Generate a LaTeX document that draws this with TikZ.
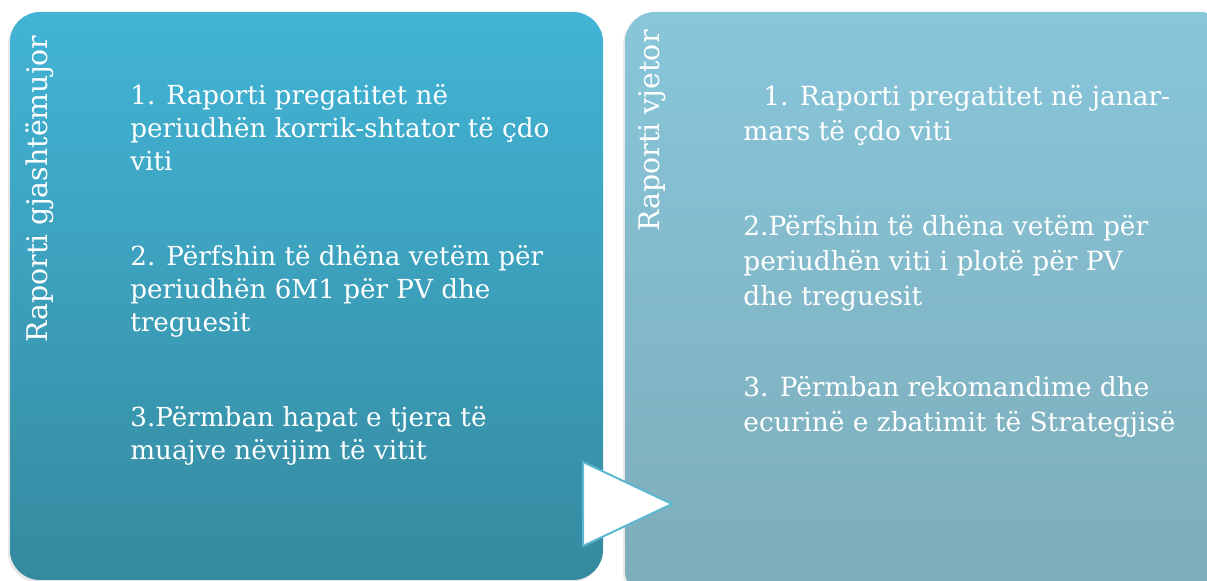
\documentclass[tikz,border=0pt]{standalone}
\usepackage{fontspec}
\setmainfont{DejaVu Serif}
\usetikzlibrary{positioning, shadows}
\definecolor{halftop}{HTML}{42B4D6}
\definecolor{halfbottom}{HTML}{358A9F}
\definecolor{yeartop}{HTML}{88C6DA}
\definecolor{yearbottom}{HTML}{7DACB9}
\definecolor{tipline}{HTML}{5BB8D0}
\tikzset{
    panel/.style = {rectangle, rounded corners=15pt, inner sep=0pt, minimum width=#1, drop shadow={opacity=0.18, shadow xshift=-1pt, shadow yshift=-1.2pt}},
    paneltitle/.style = {rotate=90, anchor=east, inner sep=0pt, text=white, font=\fontsize{14.2}{17}\selectfont},
    halfitem/.style = {anchor=north west, inner sep=0pt, align=left, text=white, font=\fontsize{13.1}{16.5}\selectfont},
    yearitem/.style = {anchor=north west, inner sep=0pt, align=left, text=white, font=\fontsize{13.2}{17.5}\selectfont},
    arrowtip/.style = {fill=white, draw=tipline, line width=1pt, line join=miter}
}

\begin{document}
\begin{tikzpicture}[x=0.5pt, y=-0.5pt]
\useasboundingbox (0,0) rectangle (1207,581);
% Panels
\node (half) [panel=296.5pt, minimum height=284pt, top color=halftop, bottom color=halfbottom] at (306.5,296) {};
\node (year) [panel=302.5pt, minimum height=294pt, top color=yeartop, bottom color=yearbottom] at (927.5,306) {};

% Titles
\node (halftitle) [paneltitle] at (40,35) {Raporti gjashtëmujor};
\node (yeartitle) [paneltitle] at (652,30) {Raporti vjetor};

% Items, six-month report
\node (h1) [halfitem] at (130,84) {1. Raporti pregatitet në\\periudhën korrik-shtator të çdo\\viti};
\node (h2) [halfitem] at (130,245) {2. Përfshin të dhëna vetëm për\\periudhën 6M1 për PV dhe\\treguesit};
\node (h3) [halfitem] at (130,406) {3.Përmban hapat e tjera të\\muajve nëvijim të vitit};

% Items, annual report
\node (y1) [yearitem] at (743,85) {\hspace*{10pt}1. Raporti pregatitet në janar-\\mars të çdo viti};
\node (y2) [yearitem] at (743,215) {2.Përfshin të dhëna vetëm për\\periudhën viti i plotë për PV\\dhe treguesit};
\node (y3) [yearitem] at (743,376) {3. Përmban rekomandime dhe\\ecurinë e zbatimit të Strategjisë};

% Arrow between panels
\draw [arrowtip] (583,462) -- (672,504) -- (583,546) -- cycle;
\end{tikzpicture}
\end{document}
